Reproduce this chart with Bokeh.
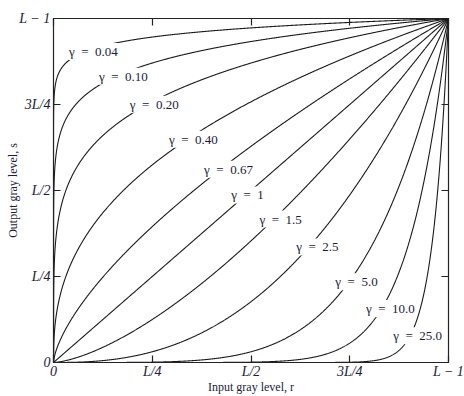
import numpy as np
from bokeh.plotting import figure
from bokeh.models import Range1d, LinearAxis, FixedTicker, Label
from bokeh.embed import file_html
from bokeh.resources import INLINE

# ---- data ----
gammas = [0.04, 0.10, 0.20, 0.40, 0.67, 1.0, 1.5, 2.5, 5.0, 10.0, 25.0]
gamma_texts = ["0.04", "0.10", "0.20", "0.40", "0.67", "1", "1.5", "2.5", "5.0", "10.0", "25.0"]
tick_values = [0, 0.25, 0.5, 0.75, 1]
tick_labels = ["0", "L/4", "L/2", "3L/4", "L \u2212 1"]

# label anchor positions (layout only)
label_r = [0.101, 0.177, 0.255, 0.354, 0.443, 0.491, 0.575, 0.668, 0.767, 0.853, 0.922]
label_s = [0.904, 0.832, 0.751, 0.649, 0.562, 0.487, 0.417, 0.336, 0.235, 0.157, 0.078]

TXT = "#1b1b3a"
SERIF = "Liberation Serif"

p = figure(width=464, height=396, output_backend="svg", toolbar_location=None,
           x_range=Range1d(0, 1), y_range=Range1d(0, 1),
           min_border_left=53, min_border_right=16, min_border_top=18, min_border_bottom=33)
p.grid.visible = False
p.outline_line_color = "#222222"
p.outline_line_width = 1.2

r = np.unique(np.concatenate([[0.0], np.logspace(-30, 0, 700), np.linspace(0, 1, 900)]))
for g in gammas:
    p.line(r, r ** g, line_color="#1a1a1a", line_width=1.1)

ticker = FixedTicker(ticks=tick_values)

def style_axis(ax, show_labels):
    ax.ticker = ticker
    ax.minor_tick_line_color = None
    ax.major_tick_in = 7
    ax.major_tick_out = 0
    ax.axis_line_color = "#222222"
    ax.major_tick_line_color = "#222222"
    ax.major_tick_line_width = 1.2
    if show_labels:
        ax.major_label_overrides = {v: t for v, t in zip(tick_values, tick_labels)}
        ax.major_label_text_font = SERIF
        ax.major_label_text_font_style = "italic"
        ax.major_label_text_font_size = "14px"
        ax.major_label_text_color = TXT
        ax.major_label_standoff = 1
    else:
        ax.major_label_overrides = {v: "" for v in tick_values}
        ax.major_label_standoff = 0

style_axis(p.xaxis[0], True)
style_axis(p.yaxis[0], True)
p.yaxis[0].major_label_standoff = 3

for ax, title in ((p.xaxis[0], "Input gray level, r"), (p.yaxis[0], "Output gray level, s")):
    ax.axis_label = title
    ax.axis_label_text_font = SERIF
    ax.axis_label_text_font_style = "normal"
    ax.axis_label_text_font_size = "12px"
    ax.axis_label_text_color = TXT
p.xaxis[0].axis_label_standoff = -2
p.yaxis[0].axis_label_standoff = -4

top = LinearAxis()
right = LinearAxis()
style_axis(top, False)
style_axis(right, False)
p.add_layout(top, "above")
p.add_layout(right, "right")

for xr, ys, gt in zip(label_r, label_s, gamma_texts):
    p.add_layout(Label(x=xr, y=ys, text="\u03b3\u2002=\u2002" + gt,
                       text_align="center", text_baseline="middle",
                       text_font=SERIF, text_font_size="13px", text_color=TXT,
                       background_fill_color="white", padding=1))

open("out.html", "w").write(file_html(p, INLINE))
